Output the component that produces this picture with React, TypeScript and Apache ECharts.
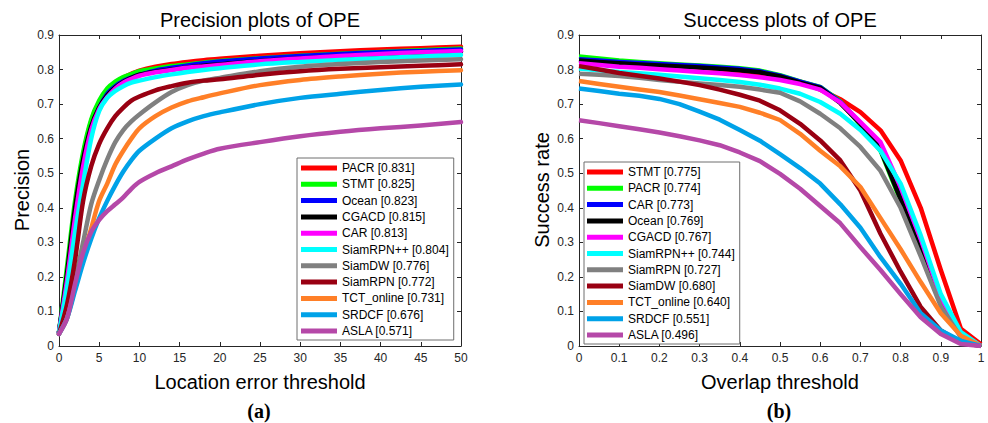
import React, { useEffect, useRef } from "react";
import * as echarts from "echarts";

// ---------- Data ----------
const precThresholds = [0, 1, 2, 3, 4, 5, 6, 7, 8, 9, 10, 12, 14, 16, 18, 20, 25, 30, 35, 40, 45, 50];
const precNames = ["PACR", "STMT", "Ocean", "CGACD", "CAR", "SiamRPN++", "SiamDW", "SiamRPN", "TCT_online", "SRDCF", "ASLA"];
const precScores = [0.831, 0.825, 0.823, 0.815, 0.813, 0.804, 0.776, 0.772, 0.731, 0.676, 0.571];
const precPACR = [0.04, 0.2, 0.4, 0.55, 0.65, 0.705, 0.74, 0.762, 0.777, 0.788, 0.797, 0.808, 0.816, 0.822, 0.827, 0.831, 0.84, 0.847, 0.853, 0.858, 0.862, 0.866];
const precSTMT = [0.04, 0.23, 0.42, 0.56, 0.655, 0.71, 0.745, 0.765, 0.778, 0.787, 0.795, 0.803, 0.81, 0.815, 0.82, 0.825, 0.833, 0.84, 0.846, 0.851, 0.856, 0.861];
const precOcean = [0.04, 0.2, 0.38, 0.53, 0.63, 0.69, 0.73, 0.752, 0.767, 0.777, 0.785, 0.797, 0.805, 0.812, 0.818, 0.823, 0.832, 0.839, 0.845, 0.85, 0.854, 0.858];
const precCGACD = [0.04, 0.21, 0.4, 0.54, 0.635, 0.69, 0.725, 0.748, 0.764, 0.776, 0.785, 0.794, 0.8, 0.806, 0.811, 0.815, 0.825, 0.832, 0.838, 0.843, 0.848, 0.852];
const precCAR = [0.04, 0.19, 0.37, 0.52, 0.625, 0.685, 0.72, 0.745, 0.762, 0.773, 0.782, 0.792, 0.799, 0.805, 0.809, 0.813, 0.824, 0.832, 0.839, 0.845, 0.85, 0.854];
const precSiamRPNpp = [0.04, 0.17, 0.33, 0.47, 0.6, 0.68, 0.718, 0.738, 0.752, 0.762, 0.768, 0.778, 0.786, 0.793, 0.799, 0.804, 0.815, 0.822, 0.828, 0.833, 0.838, 0.842];
const precSiamDW = [0.035, 0.09, 0.19, 0.3, 0.41, 0.48, 0.54, 0.59, 0.625, 0.65, 0.67, 0.705, 0.735, 0.755, 0.768, 0.776, 0.795, 0.808, 0.816, 0.822, 0.826, 0.83];
const precSiamRPN = [0.035, 0.12, 0.25, 0.42, 0.52, 0.585, 0.63, 0.665, 0.69, 0.71, 0.722, 0.74, 0.752, 0.762, 0.768, 0.772, 0.785, 0.795, 0.802, 0.807, 0.811, 0.815];
const precTCT = [0.035, 0.08, 0.17, 0.26, 0.34, 0.42, 0.47, 0.525, 0.565, 0.6, 0.63, 0.665, 0.69, 0.708, 0.72, 0.731, 0.755, 0.77, 0.78, 0.788, 0.794, 0.798];
const precSRDCF = [0.035, 0.08, 0.16, 0.24, 0.31, 0.37, 0.42, 0.465, 0.505, 0.538, 0.565, 0.6, 0.63, 0.65, 0.665, 0.676, 0.7, 0.718, 0.73, 0.741, 0.75, 0.757];
const precASLA = [0.035, 0.08, 0.18, 0.27, 0.33, 0.365, 0.39, 0.41, 0.43, 0.455, 0.475, 0.5, 0.52, 0.54, 0.557, 0.571, 0.59, 0.607, 0.62, 0.63, 0.638, 0.648];

const succThresholds = [0, 0.05, 0.1, 0.15, 0.2, 0.25, 0.3, 0.35, 0.4, 0.45, 0.5, 0.55, 0.6, 0.65, 0.7, 0.75, 0.8, 0.85, 0.9, 0.95, 1];
const succNames = ["STMT", "PACR", "CAR", "Ocean", "CGACD", "SiamRPN++", "SiamRPN", "SiamDW", "TCT_online", "SRDCF", "ASLA"];
const succScores = [0.775, 0.774, 0.773, 0.769, 0.767, 0.744, 0.727, 0.68, 0.64, 0.551, 0.496];
const succSTMT = [0.83, 0.826, 0.822, 0.818, 0.814, 0.81, 0.806, 0.801, 0.795, 0.787, 0.778, 0.765, 0.742, 0.714, 0.677, 0.624, 0.537, 0.4, 0.22, 0.05, 0.005];
const succPACR = [0.838, 0.832, 0.826, 0.822, 0.818, 0.815, 0.812, 0.808, 0.804, 0.797, 0.784, 0.766, 0.75, 0.708, 0.64, 0.565, 0.42, 0.27, 0.13, 0.03, 0];
const succCAR = [0.83, 0.826, 0.822, 0.819, 0.816, 0.813, 0.81, 0.806, 0.802, 0.795, 0.782, 0.765, 0.749, 0.706, 0.645, 0.57, 0.43, 0.28, 0.13, 0.03, 0];
const succOcean = [0.826, 0.822, 0.818, 0.815, 0.812, 0.809, 0.806, 0.802, 0.798, 0.792, 0.78, 0.762, 0.747, 0.703, 0.643, 0.568, 0.425, 0.275, 0.128, 0.03, 0];
const succCGACD = [0.818, 0.813, 0.808, 0.805, 0.801, 0.797, 0.793, 0.789, 0.784, 0.778, 0.77, 0.758, 0.742, 0.705, 0.648, 0.59, 0.46, 0.31, 0.14, 0.035, 0];
const succSiamRPNpp = [0.803, 0.798, 0.793, 0.789, 0.785, 0.78, 0.775, 0.77, 0.764, 0.756, 0.745, 0.73, 0.706, 0.672, 0.625, 0.565, 0.47, 0.32, 0.15, 0.04, 0];
const succSiamRPN = [0.788, 0.785, 0.781, 0.776, 0.77, 0.765, 0.76, 0.755, 0.75, 0.742, 0.733, 0.708, 0.672, 0.63, 0.576, 0.507, 0.4, 0.26, 0.115, 0.025, 0];
const succSiamDW = [0.81, 0.8, 0.79, 0.782, 0.774, 0.765, 0.755, 0.742, 0.727, 0.71, 0.682, 0.643, 0.595, 0.537, 0.45, 0.325, 0.215, 0.113, 0.045, 0.01, 0];
const succTCT = [0.767, 0.758, 0.75, 0.742, 0.735, 0.725, 0.714, 0.703, 0.692, 0.675, 0.654, 0.614, 0.565, 0.52, 0.46, 0.37, 0.28, 0.185, 0.095, 0.03, 0];
const succSRDCF = [0.745, 0.738, 0.73, 0.724, 0.715, 0.7, 0.678, 0.655, 0.625, 0.594, 0.555, 0.515, 0.47, 0.41, 0.342, 0.257, 0.18, 0.095, 0.045, 0.015, 0];
const succASLA = [0.653, 0.645, 0.636, 0.627, 0.618, 0.607, 0.595, 0.581, 0.56, 0.535, 0.498, 0.455, 0.405, 0.355, 0.286, 0.22, 0.15, 0.083, 0.035, 0.006, 0];

const rankColors = ["#ff0000", "#00ff00", "#0000ff", "#000000", "#ff00ff", "#00ffff", "#808080", "#990012", "#ff7f27", "#00a2e8", "#b548a8"];

const precSeries = [precPACR, precSTMT, precOcean, precCGACD, precCAR, precSiamRPNpp, precSiamDW, precSiamRPN, precTCT, precSRDCF, precASLA];
const succSeries = [succSTMT, succPACR, succCAR, succOcean, succCGACD, succSiamRPNpp, succSiamRPN, succSiamDW, succTCT, succSRDCF, succASLA];

const FONT = "'Liberation Sans', Arial, sans-serif";
const AXIS_COLOR = "#262626";

function fmt(v: number) {
  const r = Math.round(v * 10) / 10;
  return r === 0 ? "0" : String(r);
}

export default function App() {
  const ref = useRef<HTMLDivElement>(null);
  useEffect(() => {
    if (!ref.current) return;
    const chart = echarts.init(ref.current, undefined, { renderer: "svg" });

    const precLabels = precNames.map((n, i) => `${n} [${precScores[i].toFixed(3)}]`);
    const succLabels = succNames.map((n, i) => `${n} [${succScores[i].toFixed(3)}]`);

    const mkX = (gridIndex: number, min: number, max: number, interval: number, top: boolean, showLabel: boolean) => ({
      type: "value",
      gridIndex,
      min,
      max,
      interval,
      position: top ? "top" : "bottom",
      axisLine: { show: true, onZero: false, lineStyle: { color: AXIS_COLOR, width: 1 } },
      axisTick: { show: true, inside: true, length: 4, lineStyle: { color: AXIS_COLOR } },
      axisLabel: { show: showLabel, color: AXIS_COLOR, fontSize: 12, fontFamily: FONT, margin: 6, formatter: (v: number) => fmt(v) },
      splitLine: { show: false },
    });
    const mkY = (gridIndex: number, right: boolean, showLabel: boolean) => ({
      type: "value",
      gridIndex,
      min: 0,
      max: 0.9,
      interval: 0.1,
      position: right ? "right" : "left",
      axisLine: { show: true, onZero: false, lineStyle: { color: AXIS_COLOR, width: 1 } },
      axisTick: { show: true, inside: true, length: 4, lineStyle: { color: AXIS_COLOR } },
      axisLabel: { show: showLabel, color: AXIS_COLOR, fontSize: 12, fontFamily: FONT, margin: 5, formatter: (v: number) => fmt(v) },
      splitLine: { show: false },
    });

    const series: any[] = [];
    precSeries.forEach((vals, i) => {
      series.push({
        type: "line",
        name: precLabels[i],
        xAxisIndex: 0,
        yAxisIndex: 0,
        data: precThresholds.map((t, j) => [t, vals[j]]),
        showSymbol: false,
        symbol: "none",
        smooth: 0.3,
        color: rankColors[i],
        lineStyle: { color: rankColors[i], width: 4.5, join: "round", cap: "round" },
        itemStyle: { color: rankColors[i] },
      });
    });
    succSeries.forEach((vals, i) => {
      series.push({
        type: "line",
        name: succLabels[i],
        xAxisIndex: 2,
        yAxisIndex: 2,
        data: succThresholds.map((t, j) => [t, vals[j]]),
        showSymbol: false,
        symbol: "none",
        color: rankColors[i],
        lineStyle: { color: rankColors[i], width: 4.5, join: "round", cap: "butt" },
        itemStyle: { color: rankColors[i] },
      });
    });

    const legendCommon = {
      orient: "vertical",
      icon: "rect",
      itemWidth: 36,
      itemHeight: 5,
      itemGap: 2.3,
      selectedMode: false,
      backgroundColor: "#ffffff",
      borderColor: "#6e6e6e",
      borderWidth: 1,
      borderRadius: 0,
      textStyle: { fontSize: 12, fontFamily: FONT, color: "#000", lineHeight: 14 },
    };

    const txt = (text: string, x: number, y: number, size: number, extra: any = {}) => ({
      type: "text",
      x,
      y,
      rotation: extra.rotation || 0,
      style: {
        text,
        textAlign: "center",
        textVerticalAlign: "middle",
        fontSize: size,
        fontFamily: extra.fontFamily || FONT,
        fontWeight: extra.fontWeight || "normal",
        fill: extra.fill || "#000",
      },
    });

    chart.setOption({
      animation: false,
      backgroundColor: "#ffffff",
      textStyle: { fontFamily: FONT },
      grid: [
        { left: 59, top: 35, width: 402, height: 311, containLabel: false },
        { left: 579, top: 35, width: 402, height: 311, containLabel: false },
      ],
      xAxis: [
        mkX(0, 0, 50, 5, false, true),
        mkX(0, 0, 50, 5, true, false),
        mkX(1, 0, 1, 0.1, false, true),
        mkX(1, 0, 1, 0.1, true, false),
      ],
      yAxis: [mkY(0, false, true), mkY(0, true, false), mkY(1, false, true), mkY(1, true, false)],
      legend: [
        { ...legendCommon, data: precLabels, left: 297, top: 158, padding: [3, 5, 2, 4] },
        { ...legendCommon, data: succLabels, left: 584, top: 162, padding: [3, 5, 2, 3] },
      ],
      graphic: [
        txt("Precision plots of OPE", 260, 20, 20),
        txt("Success plots of OPE", 780, 20, 20),
        txt("Location error threshold", 260, 382, 20),
        txt("Overlap threshold", 780, 382, 20),
        txt("Precision", 22, 190, 20, { rotation: Math.PI / 2 }),
        txt("Success rate", 542, 190, 20, { rotation: Math.PI / 2 }),
        txt("(a)", 259, 411, 20, { fontFamily: "'Liberation Serif', serif", fontWeight: "bold" }),
        txt("(b)", 779, 411, 20, { fontFamily: "'Liberation Serif', serif", fontWeight: "bold" }),
      ],
      series,
    });

    return () => chart.dispose();
  }, []);

  return <div ref={ref} style={{ position: "fixed", left: 0, top: 0, width: 988, height: 423, background: "#fff" }} />;
}
